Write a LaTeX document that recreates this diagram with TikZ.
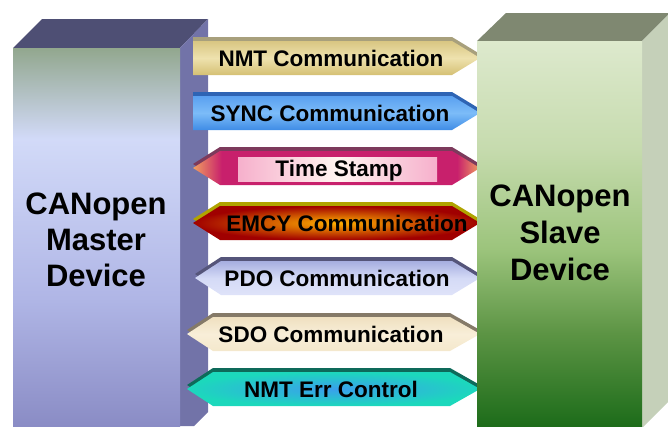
\documentclass[tikz,border=0pt]{standalone}
\usepackage{fontspec}
\setmainfont{Liberation Sans}
\usepackage{xcolor}
\usetikzlibrary{positioning}

\definecolor{mtop}{HTML}{4E4F74}
\definecolor{mside}{HTML}{7273A8}
\definecolor{mf1}{HTML}{92A78E}
\definecolor{mf2}{HTML}{D2DAF8}
\definecolor{mf3}{HTML}{B0B6E6}
\definecolor{mf4}{HTML}{8A8CC5}
\definecolor{stop}{HTML}{7F8871}
\definecolor{sside}{HTML}{C5D0B9}
\definecolor{sf1}{HTML}{DDE9CD}
\definecolor{sf2}{HTML}{C6DBAE}
\definecolor{sf3}{HTML}{9CC47C}
\definecolor{sf4}{HTML}{5C9444}
\definecolor{sf5}{HTML}{1D6C1A}
\definecolor{nmtb}{HTML}{A8A07C}
\definecolor{nmt1}{HTML}{D9C682}
\definecolor{nmt2}{HTML}{EEE2AE}
\definecolor{nmt3}{HTML}{D5C074}
\definecolor{syncb}{HTML}{2E64B4}
\definecolor{sync1}{HTML}{5AA0F0}
\definecolor{sync2}{HTML}{7CBCF8}
\definecolor{sync3}{HTML}{3F8CE6}
\definecolor{tsb}{HTML}{7C3A5C}
\definecolor{tsorange}{HTML}{F0A060}
\definecolor{tsmag}{HTML}{C8206C}
\definecolor{tspink}{HTML}{F6B0CC}
\definecolor{tslight}{HTML}{FFF4F0}
\definecolor{emcyb}{HTML}{B0A400}
\definecolor{emcyin}{HTML}{FFB000}
\definecolor{emcyout}{HTML}{A00000}
\definecolor{pdob}{HTML}{55557A}
\definecolor{pdo1}{HTML}{A6AEE0}
\definecolor{pdo2}{HTML}{D4DAF6}
\definecolor{pdo3}{HTML}{DFE3F9}
\definecolor{sdob}{HTML}{857A68}
\definecolor{sdo1}{HTML}{EFE0C0}
\definecolor{sdo2}{HTML}{F8EED8}
\definecolor{sdo3}{HTML}{F4E8CC}
\definecolor{errb}{HTML}{0E6A5A}
\definecolor{errin}{HTML}{3AA0EC}
\definecolor{errout}{HTML}{1CD8BC}

\pgfdeclareverticalshading{mfront}{100bp}{color(0bp)=(mf4); color(25bp)=(mf4); color(42bp)=(mf3); color(63bp)=(mf2); color(75bp)=(mf1); color(100bp)=(mf1)}
\pgfdeclareverticalshading{sfront}{100bp}{color(0bp)=(sf5); color(25bp)=(sf5); color(37bp)=(sf4); color(48bp)=(sf3); color(61bp)=(sf2); color(75bp)=(sf1); color(100bp)=(sf1)}
\pgfdeclarehorizontalshading{tstamp}{100bp}{color(0bp)=(tsorange); color(25bp)=(tsorange); color(30bp)=(tsmag); color(71bp)=(tsmag); color(75bp)=(tsorange); color(100bp)=(tsorange)}

\begin{document}
\begin{tikzpicture}[x=1pt,y=-1pt,
    lbl/.style={font=\bfseries\fontsize{22.5}{26}\selectfont,anchor=base,inner sep=0pt},
    dev/.style={font=\bfseries\fontsize{31}{36}\selectfont,align=center,inner sep=0pt}]
  \useasboundingbox (0,0) rectangle (668,426);
  % master device
  \fill[mtop] (13,48) -- (42,19) -- (208,19) -- (180,48) -- cycle;
  \fill[mside] (180,48) -- (208,19) -- (208,412) -- (194,426) -- (180,426) -- cycle;
  \shade[shading=mfront] (13,48) rectangle (180,426);
  % messages
  \fill[nmtb] (193,37) -- (452,37) -- (480,54) -- (452,71) -- (193,71) -- cycle;
  \shade[top color=nmt1,bottom color=nmt3,middle color=nmt2] (193,41) -- (452,41) -- (480,58) -- (452,75) -- (193,75) -- cycle;
  \node[lbl] (nmt) at (331,66) {NMT Communication};
  \fill[syncb] (193,92) -- (452,92) -- (480,109) -- (452,126) -- (193,126) -- cycle;
  \shade[top color=sync1,bottom color=sync3,middle color=sync2] (193,96) -- (452,96) -- (480,113) -- (452,130) -- (193,130) -- cycle;
  \node[lbl] (sync) at (330,121) {SYNC Communication};
  \fill[tsb] (193,164) -- (220,147) -- (452,147) -- (480,164) -- (452,181) -- (220,181) -- cycle;
  \shade[shading=tstamp] (193,168) -- (220,151) -- (452,151) -- (480,168) -- (452,185) -- (220,185) -- cycle;
  \shade[left color=tspink,right color=tspink,middle color=tslight] (238,157) rectangle (437,181);
  \node[lbl] (ts) at (339,176) {Time Stamp};
  \fill[emcyb] (193,219) -- (220,202) -- (452,202) -- (480,219) -- (452,236) -- (220,236) -- cycle;
  \shade[inner color=emcyin,outer color=emcyout] (193,223) -- (220,206) -- (452,206) -- (480,223) -- (452,240) -- (220,240) -- cycle;
  \node[lbl] (emcy) at (347,231) {EMCY Communication};
  \fill[pdob] (195,274) -- (221,257) -- (452,257) -- (480,274) -- (452,291) -- (221,291) -- cycle;
  \shade[top color=pdo1,bottom color=pdo3,middle color=pdo2] (195,278) -- (221,261) -- (452,261) -- (480,278) -- (452,295) -- (221,295) -- cycle;
  \node[lbl] (pdo) at (337,286) {PDO Communication};
  \fill[sdob] (187,330) -- (213,313) -- (450,313) -- (480,330) -- (450,347) -- (213,347) -- cycle;
  \shade[top color=sdo1,bottom color=sdo3,middle color=sdo2] (187,334) -- (213,317) -- (450,317) -- (480,334) -- (450,351) -- (213,351) -- cycle;
  \node[lbl] (sdo) at (331,342) {SDO Communication};
  \fill[errb] (187,385) -- (213,368) -- (450,368) -- (480,385) -- (450,402) -- (213,402) -- cycle;
  \shade[inner color=errin,outer color=errout] (187,389) -- (213,372) -- (450,372) -- (480,389) -- (450,406) -- (213,406) -- cycle;
  \node[lbl] (err) at (331,397) {NMT Err Control};
  % slave device
  \fill[stop] (477,41) -- (506,13) -- (670,13) -- (642,41) -- cycle;
  \fill[sside] (642,41) -- (670,13) -- (670,400) -- (642,428) -- cycle;
  \shade[shading=sfront] (477,41) rectangle (642,426);
  \node[dev] (ms) at (96,240) {CANopen\\Master\\Device};
  \node[dev,font=\bfseries\fontsize{31}{37}\selectfont] (sl) at (560,233) {CANopen\\Slave\\Device};
\end{tikzpicture}
\end{document}
